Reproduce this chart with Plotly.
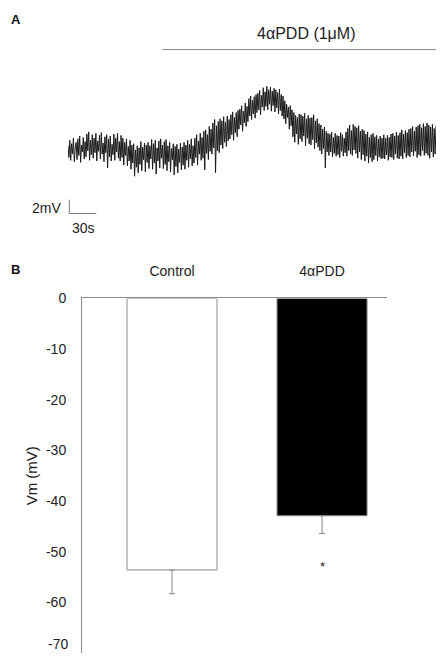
import plotly.graph_objects as go

# ---------------- Panel A data: membrane potential trace (mV, relative) ----------------
SAMPLE_INTERVAL_S = 1.0
trace_mv = [
    5.8, 4.1, 6.6, 3.7, 6.1, 4.6, 6.9, 3.5, 5.4, 6.3,
    3.8, 6.8, 4.4, 7.2, 3.4, 5.9, 4.9, 7.0, 3.9, 6.4,
    4.2, 7.5, 5.1, 7.8, 3.7, 6.6, 4.5, 7.4, 4.0, 6.9,
    4.8, 7.6, 3.6, 6.5, 5.0, 7.3, 3.9, 7.7, 4.6, 6.2,
    3.5, 7.1, 4.8, 7.4, 2.6, 6.8, 4.2, 7.2, 3.6, 6.0,
    4.5, 7.5, 3.7, 6.9, 4.9, 7.6, 4.0, 6.4, 3.6, 7.3,
    4.1, 6.9, 3.0, 6.3, 4.4, 6.8, 2.9, 5.7, 3.6, 6.6,
    2.4, 5.9, 3.3, 6.1, 1.4, 5.2, 2.7, 5.8, 1.9, 5.5,
    3.1, 6.4, 2.2, 5.6, 3.8, 6.2, 2.0, 5.9, 3.4, 6.3,
    2.5, 5.8, 3.9, 6.7, 2.4, 6.1, 3.3, 6.6, 1.7, 5.5,
    3.6, 6.5, 2.6, 6.8, 4.0, 5.9, 2.5, 6.4, 3.1, 6.7,
    2.2, 5.8, 3.5, 6.3, 2.0, 5.4, 3.8, 6.1, 1.6, 5.7,
    2.8, 6.0, 1.9, 5.3, 3.4, 6.2, 2.3, 5.6, 3.0, 6.3,
    2.4, 5.9, 3.7, 6.6, 2.7, 6.0, 3.9, 6.8, 2.9, 5.8,
    3.3, 6.9, 4.1, 7.4, 3.0, 6.5, 4.6, 7.6, 3.7, 7.0,
    4.0, 7.9, 2.3, 8.1, 4.7, 7.4, 3.8, 8.6, 5.0, 8.2,
    4.6, 9.1, 5.5, 9.6, 1.9, 8.7, 5.1, 9.3, 4.8, 9.7,
    5.9, 9.4, 5.4, 10.0, 6.3, 9.2, 5.7, 10.1, 6.5, 9.6,
    6.8, 10.3, 7.4, 10.7, 6.6, 9.9, 7.7, 10.6, 7.1, 10.9,
    8.2, 11.1, 8.8, 11.6, 7.9, 10.8, 9.1, 12.0, 8.6, 11.5,
    9.3, 12.6, 10.1, 13.0, 9.6, 12.4, 10.4, 12.9, 9.8, 13.2,
    10.6, 13.4, 11.0, 13.8, 10.3, 13.1, 11.4, 14.2, 10.9, 13.6,
    11.5, 14.4, 11.0, 13.9, 11.8, 14.3, 10.8, 13.7, 11.6, 14.1,
    10.7, 13.9, 11.3, 13.5, 10.4, 14.0, 10.9, 13.2, 10.1, 13.0,
    9.7, 12.3, 9.0, 11.8, 9.9, 11.4, 8.2, 11.6, 8.7, 11.0,
    7.1, 10.6, 6.3, 10.2, 7.5, 9.9, 6.0, 10.4, 6.8, 10.3,
    6.4, 10.1, 7.2, 10.5, 5.8, 9.7, 6.9, 10.2, 6.1, 9.8,
    5.9, 9.9, 6.7, 10.3, 5.4, 9.4, 6.2, 9.7, 5.6, 9.0,
    5.1, 8.8, 4.6, 8.2, 5.4, 8.5, 2.6, 7.9, 4.9, 7.6,
    4.4, 7.5, 4.9, 7.8, 4.2, 7.0, 4.7, 7.6, 4.3, 7.3,
    4.5, 7.2, 4.1, 7.7, 5.0, 7.4, 4.3, 6.9, 4.8, 7.8,
    4.3, 8.3, 5.1, 8.8, 4.6, 8.0, 4.4, 8.9, 5.2, 8.6,
    4.7, 8.4, 4.0, 8.7, 4.9, 7.9, 3.8, 8.2, 4.5, 8.0,
    3.6, 7.5, 4.3, 7.8, 3.3, 7.0, 4.1, 7.4, 3.5, 7.6,
    3.8, 7.1, 4.4, 7.3, 3.6, 6.8, 4.2, 7.2, 3.9, 6.9,
    4.0, 7.4, 3.9, 6.9, 4.5, 7.3, 3.7, 7.0, 4.2, 7.5,
    4.1, 7.6, 3.8, 7.2, 4.6, 7.8, 4.0, 7.3, 3.9, 7.7,
    4.3, 8.1, 3.9, 7.5, 4.8, 8.0, 4.1, 7.7, 4.4, 8.2,
    4.2, 8.3, 4.9, 8.6, 4.3, 7.9, 5.0, 8.5, 4.1, 8.7,
    4.5, 8.9, 4.3, 8.4, 5.1, 9.0, 4.4, 8.6, 4.7, 9.1,
    4.4, 8.8, 4.0, 8.5, 4.9, 8.9, 4.2, 8.3, 4.6, 8.7,
]
trace_t = [i * SAMPLE_INTERVAL_S for i in range(len(trace_mv))]

drug_label = "4\u03b1PDD (1\u03bcM)"
drug_start_s = 105
scale_time_s = 30
scale_mv = 2

# ---------------- Panel B data ----------------
categories = ["Control", "4\u03b1PDD"]
vm_mean = [-53.6, -42.9]
vm_sem = [4.7, 3.5]
y_ticks = [0, -10, -20, -30, -40, -50, -60, -70]
y_tick_labels = ["0", "-10", "-20", "-30", "-40", "-50", "-60", "-70"]

# The page body has an 8px margin on every side; size the figure so the
# whole page is exactly 444x662.
OFF = 8
W, H = 444 - 2 * OFF, 662 - 2 * OFF


def fx(xw):
    return (xw - OFF) / W


def fy(yw):
    return 1 - (yw - OFF) / H


FONT = "Liberation Sans, Arial, sans-serif"
GREY = "#8a8a8a"

fig = go.Figure()

fig.add_trace(go.Scatter(
    x=trace_t, y=trace_mv, mode="lines",
    line=dict(color="#1a1a1a", width=1),
    xaxis="x", yaxis="y", hoverinfo="skip"))

xpos = [i + 1 for i in range(len(categories))]
fig.add_trace(go.Bar(
    x=xpos, y=vm_mean, width=0.6,
    marker=dict(color=["white", "black"], line=dict(color=GREY, width=1)),
    error_y=dict(type="data", symmetric=False,
                 array=[0] * len(vm_sem), arrayminus=vm_sem,
                 color=GREY, thickness=1, width=3),
    xaxis="x2", yaxis="y2"))

fig.update_layout(
    width=W, height=H,
    margin=dict(l=0, r=0, t=0, b=0),
    paper_bgcolor="white", plot_bgcolor="white",
    showlegend=False,
    font=dict(family=FONT, size=14, color="#222"),
    xaxis=dict(domain=[fx(68), 1.0], range=[0, 409], visible=False),
    yaxis=dict(domain=[fy(215), fy(40)], range=[-5, 20], visible=False),
    xaxis2=dict(domain=[fx(82), fx(387)], range=[0.4, 2.433], anchor="y2",
                side="top", tickvals=xpos, ticktext=categories,
                showline=True, linecolor=GREY, linewidth=1, ticks="",
                showgrid=False, zeroline=False, ticklabelstandoff=16,
                tickfont=dict(size=14, color="#222")),
    yaxis2=dict(domain=[fy(653), fy(294)], range=[-70, 0], anchor="x2",
                tickvals=y_ticks[:-1], ticktext=y_tick_labels[:-1],
                showline=True, linecolor=GREY, linewidth=1, ticks="",
                showgrid=False, zeroline=False, ticklabelstandoff=12,
                tickfont=dict(size=14, color="#222"),
                title=dict(text="Vm (mV)", standoff=4,
                           font=dict(size=15, color="#222"))),
)

# Lowest tick label, lifted just enough to stay inside the page
fig.add_annotation(x=fx(70), y=0, xref="paper", yref="paper", text=y_tick_labels[-1],
                   showarrow=False, xanchor="right", yanchor="bottom",
                   font=dict(size=14, color="#222"))

# Scale bar and drug application bar (panel A)
fig.add_shape(type="line", xref="x", yref="y", x0=1.5, x1=1.5 + scale_time_s,
              y0=-4, y1=-4, line=dict(color="#777", width=1))
fig.add_shape(type="line", xref="x", yref="y", x0=1.5, x1=1.5,
              y0=-4, y1=-4 + scale_mv, line=dict(color="#777", width=1))
fig.add_shape(type="line", xref="x", yref="paper", x0=drug_start_s, x1=1000,
              y0=fy(42), y1=fy(42), line=dict(color="#888", width=1))

fig.add_annotation(x=fx(63), y=fy(202), xref="paper", yref="paper", text="2mV",
                   showarrow=False, xanchor="right", yanchor="middle",
                   font=dict(size=14, color="#222"))
fig.add_annotation(x=fx(83), y=fy(223), xref="paper", yref="paper", text="30s",
                   showarrow=False, xanchor="center", yanchor="middle",
                   font=dict(size=14, color="#222"))
fig.add_annotation(x=fx(306), y=fy(26), xref="paper", yref="paper", text=drug_label,
                   showarrow=False, xanchor="center", yanchor="middle",
                   font=dict(size=16, color="#222"))

# Panel letters
fig.add_annotation(x=fx(9), y=fy(12), xref="paper", yref="paper", text="<b>A</b>",
                   showarrow=False, xanchor="left", yanchor="middle",
                   font=dict(size=13, color="#111"))
fig.add_annotation(x=fx(9), y=fy(265), xref="paper", yref="paper", text="<b>B</b>",
                   showarrow=False, xanchor="left", yanchor="middle",
                   font=dict(size=13, color="#111"))

# Significance marker
fig.add_annotation(x=2, y=-53.0, xref="x2", yref="y2", text="*", showarrow=False,
                   xanchor="center", yanchor="middle", font=dict(size=13, color="#222"))

fig.write_html("out.html")
